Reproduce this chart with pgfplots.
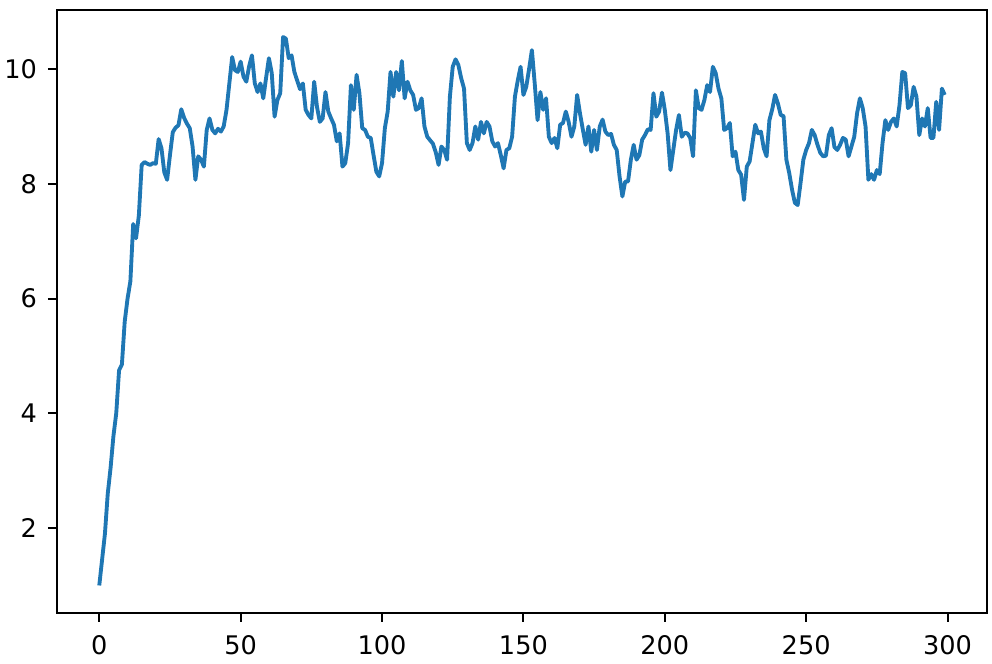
\documentclass[border=0pt]{standalone}
\usepackage{fontspec}
\setmainfont{DejaVu Sans}
\usepackage{pgfplots}
\pgfplotsset{compat=1.18}
\usepackage{pgfplotstable}
\definecolor{mplblue}{HTML}{1F77B4}
\pgfplotstableread{
x y
0 1.00
1 1.45
2 1.90
3 2.60
4 3.05
5 3.60
6 4.00
7 4.75
8 4.85
9 5.60
10 6.00
11 6.30
12 7.30
13 7.05
14 7.45
15 8.33
16 8.38
17 8.35
18 8.33
19 8.36
20 8.35
21 8.78
22 8.62
23 8.20
24 8.07
25 8.50
26 8.90
27 8.98
28 9.02
29 9.30
30 9.15
31 9.05
32 8.97
33 8.65
34 8.07
35 8.48
36 8.42
37 8.30
38 8.94
39 9.14
40 8.94
41 8.88
42 8.96
43 8.91
44 9.00
45 9.29
46 9.75
47 10.21
48 9.98
49 9.95
50 10.13
51 9.87
52 9.78
53 10.05
54 10.24
55 9.75
56 9.60
57 9.75
58 9.49
59 9.85
60 10.19
61 9.93
62 9.17
63 9.46
64 9.58
65 10.56
66 10.53
67 10.19
68 10.24
69 9.95
70 9.80
71 9.65
72 9.75
73 9.29
74 9.20
75 9.14
76 9.78
77 9.34
78 9.08
79 9.14
80 9.60
81 9.26
82 9.14
83 9.03
84 8.74
85 8.88
86 8.30
87 8.36
88 8.71
89 9.72
90 9.29
91 9.90
92 9.58
93 8.97
94 8.94
95 8.82
96 8.80
97 8.50
98 8.21
99 8.13
100 8.36
101 8.97
102 9.26
103 9.95
104 9.52
105 9.95
106 9.63
107 10.14
108 9.49
109 9.78
110 9.63
111 9.55
112 9.29
113 9.32
114 9.49
115 9.00
116 8.82
117 8.76
118 8.70
119 8.55
120 8.33
121 8.65
122 8.59
123 8.42
124 9.52
125 10.04
126 10.17
127 10.07
128 9.84
129 9.66
130 8.71
131 8.59
132 8.71
133 9.00
134 8.77
135 9.08
136 8.88
137 9.08
138 9.00
139 8.74
140 8.65
141 8.71
142 8.50
143 8.27
144 8.59
145 8.62
146 8.82
147 9.52
148 9.80
149 10.04
150 9.55
151 9.69
152 10.00
153 10.33
154 9.75
155 9.11
156 9.60
157 9.29
158 9.49
159 8.82
160 8.71
161 8.80
162 8.62
163 9.03
164 9.06
165 9.26
166 9.08
167 8.82
168 9.00
169 9.55
170 9.23
171 8.95
172 8.68
173 9.00
174 8.56
175 8.94
176 8.59
177 9.00
178 9.12
179 8.91
180 8.85
181 8.87
182 8.68
183 8.59
184 8.13
185 7.78
186 8.04
187 8.04
188 8.42
189 8.68
190 8.42
191 8.50
192 8.77
193 8.85
194 8.95
195 8.94
196 9.58
197 9.17
198 9.26
199 9.59
200 9.29
201 8.88
202 8.24
203 8.59
204 8.94
205 9.20
206 8.82
207 8.89
208 8.88
209 8.80
210 8.48
211 9.63
212 9.32
213 9.29
214 9.46
215 9.72
216 9.60
217 10.04
218 9.93
219 9.66
220 9.49
221 8.94
222 8.97
223 9.06
224 8.48
225 8.56
226 8.24
227 8.16
228 7.72
229 8.30
230 8.39
231 8.71
232 9.03
233 8.88
234 8.91
235 8.62
236 8.48
237 9.11
238 9.30
239 9.55
240 9.40
241 9.20
242 9.18
243 8.42
244 8.19
245 7.90
246 7.67
247 7.63
248 8.01
249 8.42
250 8.59
251 8.71
252 8.94
253 8.85
254 8.68
255 8.54
256 8.48
257 8.49
258 8.85
259 8.97
260 8.64
261 8.59
262 8.68
263 8.80
264 8.77
265 8.48
266 8.65
267 8.82
268 9.23
269 9.49
270 9.32
271 9.00
272 8.07
273 8.17
274 8.07
275 8.24
276 8.17
277 8.71
278 9.11
279 8.94
280 9.08
281 9.14
282 9.00
283 9.37
284 9.95
285 9.93
286 9.32
287 9.37
288 9.69
289 9.52
290 8.85
291 9.14
292 9.00
293 9.32
294 8.80
295 8.80
296 9.43
297 8.94
298 9.66
299 9.55
}\datatable
\begin{document}
\begin{tikzpicture}
\path[use as bounding box] (-28.5pt,-25.5pt) rectangle (467.5pt,306.5pt);
\begin{axis}[
  scale only axis,
  width=465pt, height=301.5pt,
  xmin=-14.95, xmax=313.95,
  ymin=0.52, ymax=11.03,
  xtick={0,50,...,300},
  ytick={2,4,6,8,10},
  tick align=outside,
  tick pos=left,
  major tick length=4.5pt,
  every tick/.style={black, line width=1.03pt},
  axis line style={line width=1.03pt},
  tick label style={font=\fontsize{12.8}{14}\selectfont},
  /pgf/number format/assume math mode=true,
  xticklabel style={yshift=-3pt},
  yticklabel style={xshift=-2pt},
]
\addplot[mplblue, line width=1.93pt, line join=round, no marks] table[x=x,y=y] {\datatable};
\end{axis}
\end{tikzpicture}
\end{document}
